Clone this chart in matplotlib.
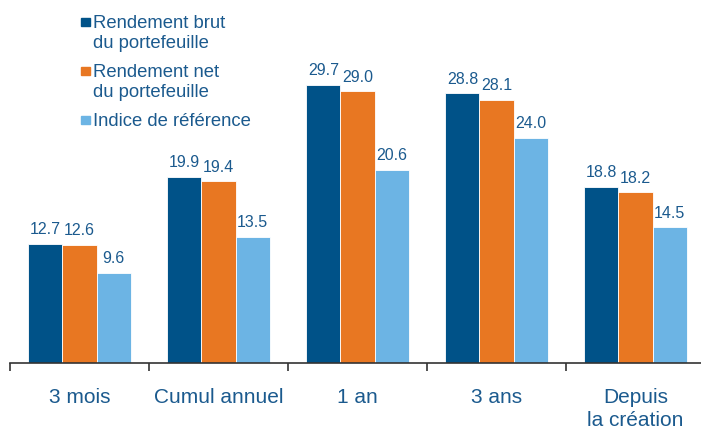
import numpy as np
import matplotlib.pyplot as plt
from matplotlib.patches import Rectangle

plt.rcParams["font.family"] = ["Liberation Sans", "DejaVu Sans"]

categories = ["3 mois", "Cumul annuel", "1 an", "3 ans", "Depuis\nla création"]
series_names = [
    "Rendement brut\ndu portefeuille",
    "Rendement net\ndu portefeuille",
    "Indice de référence",
]
brut = [12.7, 19.9, 29.7, 28.8, 18.8]
net = [12.6, 19.4, 29.0, 28.1, 18.2]
indice = [9.6, 13.5, 20.6, 24.0, 14.5]

colors = ["#005288", "#E87722", "#6CB4E4"]
text_color = "#1B5A8E"

W, H = 701, 431
fig = plt.figure(figsize=(W / 100, H / 100), dpi=100)
ax = fig.add_axes([10 / W, 67 / H, 695 / W, 364 / H])

x = np.arange(len(categories))
width = 0.245
for k, (vals, col) in enumerate(zip([brut, net, indice], colors)):
    pos = x + (k - 1) * width
    bars = ax.bar(pos, vals, width, color=col, edgecolor="white", linewidth=0.6)
    for b, v in zip(bars, vals):
        ax.annotate(f"{v:.1f}", (b.get_x() + b.get_width() / 2, v),
                    xytext=(0, 5.5), textcoords="offset points",
                    ha="center", va="bottom", fontsize=11.5, color=text_color)

ax.set_xlim(-0.5, 4.5)
ax.set_ylim(0, 38.85)

for s in ["top", "right", "left"]:
    ax.spines[s].set_visible(False)
ax.spines["bottom"].set_color("#333333")
ax.spines["bottom"].set_linewidth(1.2)
ax.set_yticks([])

ax.set_xticks(x)
ax.set_xticklabels(categories, fontsize=15, color=text_color, linespacing=1.32)
ax.tick_params(axis="x", which="major", length=0, pad=17)
ax.set_xticks(np.arange(-0.5, 5.0, 1.0), minor=True)
ax.tick_params(axis="x", which="minor", length=6, width=1.2, color="#333333",
               direction="out")

# legende : carre aligne sur la premiere ligne du libelle
first_baselines = [30, 79, 128]
for name, col, yb in zip(series_names, colors, first_baselines):
    fig.text(93 / W, 1 - (yb - 15) / H, name, fontsize=13.3, color=text_color,
             ha="left", va="top", linespacing=1.22)
    fig.patches.append(Rectangle((81 / W, 1 - (yb - 3) / H), 8.5 / W, 8.5 / H,
                                 transform=fig.transFigure, color=col))

fig.savefig("out.png", dpi=100)
